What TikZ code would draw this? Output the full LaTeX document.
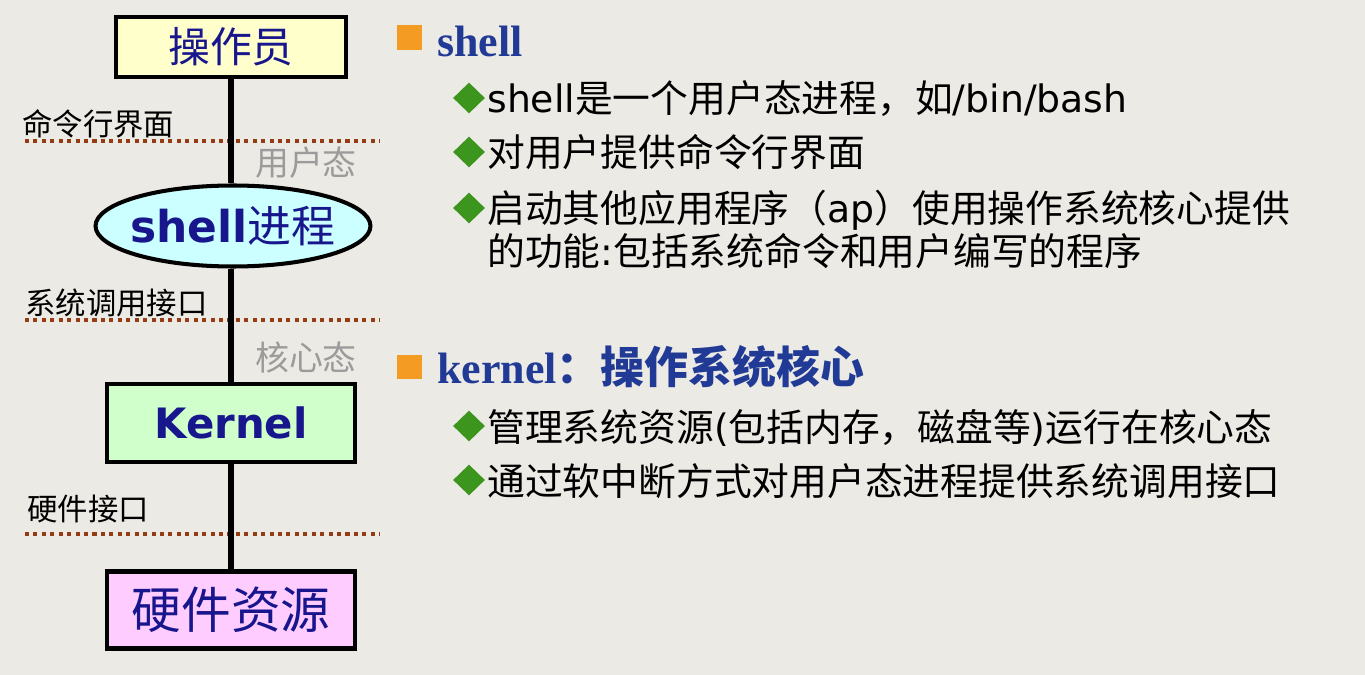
\documentclass[tikz,border=0pt]{standalone}
\usepackage{fontspec}
\setmainfont{Liberation Serif}
\newfontfamily\cjk{Noto Sans CJK SC}
\newfontfamily\latsans{DejaVu Sans}
\usetikzlibrary{shapes.geometric}

\definecolor{PageBg}{RGB}{236,234,228}
\definecolor{BoxText}{RGB}{24,22,140}
\definecolor{HeadBlue}{RGB}{32,58,150}
\definecolor{BulOrange}{RGB}{244,155,35}
\definecolor{BulGreen}{RGB}{60,150,30}
\definecolor{SepBrown}{RGB}{150,60,20}
\definecolor{ModeGrey}{RGB}{155,155,155}
\definecolor{OpFill}{RGB}{255,255,204}
\definecolor{ShFill}{RGB}{204,255,255}
\definecolor{KnFill}{RGB}{208,255,204}
\definecolor{HwFill}{RGB}{255,204,255}

\begin{document}
\begin{tikzpicture}[x={(0.02cm,0cm)}, y={(0cm,-0.02cm)},
  layerbox/.style={draw=black, line width=2.3pt, text=BoxText, inner sep=0pt},
  sepline/.style={color=SepBrown, line width=2.3pt, dash pattern=on 2.3pt off 2.5pt},
  link/.style={line width=3.4pt},
  layerlabel/.style={anchor=west, inner sep=0pt, font=\cjk\fontsize{17.3}{20}\selectfont},
  modelabel/.style={inner sep=0pt, text=ModeGrey, font=\cjk\fontsize{19.3}{22}\selectfont},
  sqbullet/.style={fill=BulOrange, minimum size=0.5cm, inner sep=0pt},
  dmbullet/.style={diamond, fill=BulGreen, minimum width=0.64cm, minimum height=0.62cm, inner sep=0pt},
  headtext/.style={anchor=base west, inner sep=0pt, text=HeadBlue, font=\bfseries\fontsize{25}{30}\selectfont},
  itemtext/.style={anchor=base west, inner sep=0pt, font=\cjk\fontsize{21.5}{26}\selectfont}]

  %%%%%%%%%% Fond %%%%%%%%%%
 \fill[PageBg] (0,0) rectangle (1365,675);

  %%%%%%%%%% Couches %%%%%%%%%%
 \node[layerbox, fill=OpFill, minimum width=4.6cm, minimum height=1.2cm,
       font=\cjk\fontsize{23.8}{28}\selectfont] (op) at (231,47) {操作员};
 \node[layerbox, ellipse, fill=ShFill, inner xsep=-0.12cm, minimum width=5.5cm, minimum height=1.62cm,
       font=\fontsize{25}{30}\selectfont] (sh) at (233,226) {{\latsans\bfseries shell}{\cjk 进程}};
 \node[layerbox, fill=KnFill, minimum width=4.95cm, minimum height=1.56cm,
       font=\latsans\bfseries\fontsize{23.8}{28}\selectfont] (kern) at (231,423) {Kernel};
 \node[layerbox, fill=HwFill, minimum width=4.95cm, minimum height=1.54cm,
       font=\cjk\fontsize{28.3}{33}\selectfont] (hw) at (231,610) {硬件资源};

 % Interfaces
 \node[layerlabel] (cli) at (22,124) {命令行界面};
 \node[layerlabel] (sys) at (25,303) {系统调用接口};
 \node[layerlabel] (hwif) at (27,509) {硬件接口};
 \node[modelabel] (user) at (306,163) {用户态};
 \node[modelabel] (kmode) at (306,358) {核心态};

 \draw[sepline] (25,141) -- (380,141);
 \draw[sepline] (25,320) -- (380,320);
 \draw[sepline] (25,534) -- (380,534);

 \draw[link] (op) -- (op |- sh.north);
 \draw[link] (op |- sh.south) -- (kern);
 \draw[link] (kern) -- (hw);

  %%%%%%%%%% Texte shell %%%%%%%%%%
 \node[sqbullet] (bshell) at (409.5,38) {};
 \node[headtext] (hshell) at (437,57) {shell};

 \node[dmbullet] (d1) at (469,98) {};
 \node[itemtext] (s1) at (487,113) {{\latsans shell}是一个用户态进程，如{\latsans /bin/bash}};
 \node[dmbullet] (d2) at (469,152) {};
 \node[itemtext] (s2) at (487,167) {对用户提供命令行界面};
 \node[dmbullet] (d3) at (469,208) {};
 \node[itemtext] (s3) at (487,223) {启动其他应用程序（{\latsans ap}）使用操作系统核心提供};
 \node[itemtext] (s3b) at (487,266) {的功能{\latsans :}包括系统命令和用户编写的程序};

  %%%%%%%%%% Texte kernel %%%%%%%%%%
 \node[sqbullet] (bkern) at (409.5,367) {};
 \node[headtext] (hkern) at (437,383) {kernel{\cjk ：操作系统核心}};

 \node[dmbullet] (d4) at (469,426) {};
 \node[itemtext] (k1) at (487,441) {管理系统资源{\latsans (}包括内存，磁盘等{\latsans )}运行在核心态};
 \node[dmbullet] (d5) at (469,480) {};
 \node[itemtext] (k2) at (487,495) {通过软中断方式对用户态进程提供系统调用接口};

\end{tikzpicture}
\end{document}
